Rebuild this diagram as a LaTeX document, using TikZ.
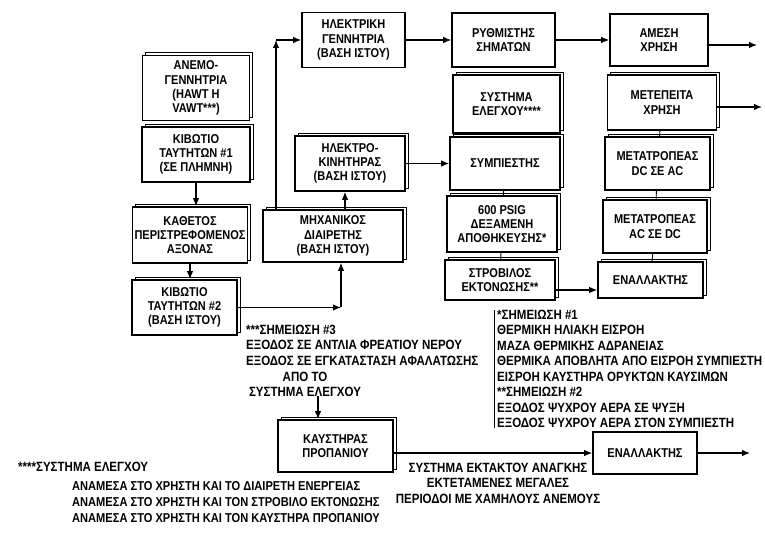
\documentclass[tikz,border=0pt]{standalone}
\usepackage{fontspec}
\setmainfont{Liberation Sans}[UprightFont={* Bold}, FakeStretch=0.86]
\usetikzlibrary{positioning, arrows.meta, shadows}

\begin{document}
\begin{tikzpicture}[x=1pt, y=-1pt, >={Latex[length=8pt, width=6.5pt]},
        font=\fontsize{12.8}{14.2}\selectfont,
        block/.style={rectangle, draw=black, line width=1.6pt, fill=white, align=center, inner sep=1pt},
        sblock/.style={block, copy shadow={shadow xshift=3pt, shadow yshift=3pt, draw=black, line width=0.9pt, fill=white}},
        note/.style={align=left, inner sep=0pt, font=\fontsize{13.4}{15.5}\selectfont},
        arrow/.style={->, line width=1.2pt},
        link/.style={line width=0.9pt}]

        \fill[white] (0,0) rectangle (765,534);
        \useasboundingbox (0,0) rectangle (765,534);

        % rotor side
        \node[sblock, minimum width=107pt, minimum height=65pt] (rotor) at (196,88) {ΑΝΕΜΟ-\\ΓΕΝΝΗΤΡΙΑ\\(HAWT Η\\VAWT***)};
        \node[sblock, minimum width=108pt, minimum height=55pt, below=5pt of rotor] (gearone) {ΚΙΒΩΤΙΟ\\ΤΑΥΤΗΤΩΝ \#1\\(ΣΕ ΠΛΗΜΝΗ)};
        \node[sblock, minimum width=115pt, minimum height=56pt] (shaft) at (190,235) {ΚΑΘΕΤΟΣ\\ΠΕΡΙΣΤΡΕΦΟΜΕΝΟΣ\\ΑΞΟΝΑΣ};
        \node[sblock, minimum width=105pt, minimum height=55pt] (geartwo) at (184.5,307.5) {ΚΙΒΩΤΙΟ\\ΤΑΥΤΗΤΩΝ \#2\\(ΒΑΣΗ ΙΣΤΟΥ)};

        % mast base
        \node[block, minimum width=103pt, minimum height=55pt] (gen) at (353.5,40) {ΗΛΕΚΤΡΙΚΗ\\ΓΕΝΝΗΤΡΙΑ\\(ΒΑΣΗ ΙΣΤΟΥ)};
        \node[sblock, minimum width=110pt, minimum height=55pt] (motor) at (350,163.5) {ΗΛΕΚΤΡΟ-\\ΚΙΝΗΤΗΡΑΣ\\(ΒΑΣΗ ΙΣΤΟΥ)};
        \node[sblock, minimum width=140pt, minimum height=52pt] (splitter) at (333,236) {ΜΗΧΑΝΙΚΟΣ\\ΔΙΑΙΡΕΤΗΣ\\(ΒΑΣΗ ΙΣΤΟΥ)};

        % middle column
        \node[block, minimum width=103pt, minimum height=54pt] (regul) at (503.5,40) {ΡΥΘΜΙΣΤΗΣ\\ΣΗΜΑΤΩΝ};
        \node[sblock, minimum width=107pt, minimum height=58pt] (control) at (506.5,104) {ΣΥΣΤΗΜΑ\\ΕΛΕΓΧΟΥ****};
        \node[sblock, minimum width=110pt, minimum height=53pt] (compr) at (505,163.5) {ΣΥΜΠΙΕΣΤΗΣ};
        \node[sblock, minimum width=110pt, minimum height=56pt] (tank) at (502,224) {600 PSIG\\ΔΕΞΑΜΕΝΗ\\ΑΠΟΘΗΚΕΥΣΗΣ*};
        \node[sblock, minimum width=110pt, minimum height=40pt] (turbine) at (500,280) {ΣΤΡΟΒΙΛΟΣ\\ΕΚΤΟΝΩΣΗΣ**};

        % right column
        \node[block, minimum width=98pt, minimum height=52pt] (direct) at (659,40) {ΑΜΕΣΗ\\ΧΡΗΣΗ};
        \node[sblock, minimum width=109pt, minimum height=55pt] (later) at (662,102.5) {ΜΕΤΕΠΕΙΤΑ\\ΧΡΗΣΗ};
        \node[sblock, minimum width=105pt, minimum height=53pt] (dcac) at (657.5,163.5) {ΜΕΤΑΤΡΟΠΕΑΣ\\DC ΣΕ AC};
        \node[sblock, minimum width=104pt, minimum height=53pt] (acdc) at (655,226.5) {ΜΕΤΑΤΡΟΠΕΑΣ\\AC ΣΕ DC};
        \node[sblock, minimum width=105pt, minimum height=36pt] (switch) at (650.5,280) {ΕΝΑΛΛΑΚΤΗΣ};

        % backup
        \node[sblock, minimum width=115pt, minimum height=52pt] (burner) at (335.5,446) {ΚΑΥΣΤΗΡΑΣ\\ΠΡΟΠΑΝΙΟΥ};
        \node[block, minimum width=104pt, minimum height=42pt] (backup) at (645,453) {ΕΝΑΛΛΑΚΤΗΣ};

        % notes
        \node[note, anchor=west] (notethree) at (246,345) {***ΣΗΜΕΙΩΣΗ \#3\\ΕΞΟΔΟΣ ΣΕ ΑΝΤΛΙΑ ΦΡΕΑΤΙΟΥ ΝΕΡΟΥ\\ΕΞΟΔΟΣ ΣΕ ΕΓΚΑΤΑΣΤΑΣΗ ΑΦΑΛΑΤΩΣΗΣ};
        \node[note, anchor=west] (noteone) at (497,369) {*ΣΗΜΕΙΩΣΗ \#1\\ΘΕΡΜΙΚΗ ΗΛΙΑΚΗ ΕΙΣΡΟΗ\\ΜΑΖΑ ΘΕΡΜΙΚΗΣ ΑΔΡΑΝΕΙΑΣ\\ΘΕΡΜΙΚΑ ΑΠΟΒΛΗΤΑ ΑΠΟ ΕΙΣΡΟΗ ΣΥΜΠΙΕΣΤΗ\\ΕΙΣΡΟΗ ΚΑΥΣΤΗΡΑ ΟΡΥΚΤΩΝ ΚΑΥΣΙΜΩΝ\\**ΣΗΜΕΙΩΣΗ \#2\\ΕΞΟΔΟΣ ΨΥΧΡΟΥ ΑΕΡΑ ΣΕ ΨΥΞΗ\\ΕΞΟΔΟΣ ΨΥΧΡΟΥ ΑΕΡΑ ΣΤΟΝ ΣΥΜΠΙΕΣΤΗ};
        \node[note, align=center, font=\fontsize{13.4}{15}\selectfont] (fromctrl) at (305,384) {ΑΠΟ ΤΟ\\ΣΥΣΤΗΜΑ ΕΛΕΓΧΟΥ};
        \node[note, align=center] (emerg) at (498,483) {ΣΥΣΤΗΜΑ ΕΚΤΑΚΤΟΥ ΑΝΑΓΚΗΣ\\ΕΚΤΕΤΑΜΕΝΕΣ ΜΕΓΑΛΕΣ\\ΠΕΡΙΟΔΟΙ ΜΕ ΧΑΜΗΛΟΥΣ ΑΝΕΜΟΥΣ};
        \node[note, anchor=west] (ctrlnote) at (18,467) {****ΣΥΣΤΗΜΑ ΕΛΕΓΧΟΥ};
        \node[note, anchor=west, font=\fontsize{12.9}{16}\selectfont] (ctrllist) at (72,502) {ΑΝΑΜΕΣΑ ΣΤΟ ΧΡΗΣΤΗ ΚΑΙ ΤΟ ΔΙΑΙΡΕΤΗ ΕΝΕΡΓΕΙΑΣ\\ΑΝΑΜΕΣΑ ΣΤΟ ΧΡΗΣΤΗ ΚΑΙ ΤΟΝ ΣΤΡΟΒΙΛΟ ΕΚΤΟΝΩΣΗΣ\\ΑΝΑΜΕΣΑ ΣΤΟ ΧΡΗΣΤΗ ΚΑΙ ΤΟΝ ΚΑΥΣΤΗΡΑ ΠΡΟΠΑΝΙΟΥ};

        \coordinate (gearkink) at (341,307.5);
        \coordinate (genkink) at (276,40);
        \coordinate (outone) at (757,45);
        \coordinate (outtwo) at (762,107);
        \coordinate (outthree) at (750,453);

        \draw[link] ([xshift=-3pt]noteone.north west) -- ([xshift=-3pt]noteone.south west);

        \draw[arrow] (gearone.south) -- (gearone.south |- shaft.north);
        \draw[arrow] (shaft.south) -- (shaft.south |- geartwo.north);
        \draw[arrow] (geartwo) -- (gearkink);
        \draw[arrow] (gearkink) -- (gearkink |- splitter.south);
        \draw[arrow] (splitter.north -| genkink) -- (genkink);
        \draw[arrow] (genkink) -- (gen);
        \draw[arrow] ([xshift=12pt]splitter.north) -- ([xshift=12pt]splitter.north |- motor.south);
        \draw[arrow] (gen) -- (regul);
        \draw[arrow] (regul) -- (direct);
        \draw[arrow] (direct.east |- outone) -- (outone);
        \draw[arrow] (motor) -- (compr);
        \draw[arrow] (later.east |- outtwo) -- (outtwo);
        \draw[arrow] ([yshift=-10pt]turbine.east) -- ([yshift=-10pt]turbine.east -| switch.west);
        \draw[link] (compr) -- (tank);
        \draw[link] (tank) -- (turbine);
        \draw[link] (later) -- (dcac);
        \draw[link] (dcac) -- (acdc);
        \draw[link] (acdc) -- (switch);
        \draw[arrow] ([xshift=13pt]fromctrl.south) -- ([xshift=13pt]fromctrl.south |- burner.north);
        \draw[arrow] (burner.east |- backup) -- (backup.west);
        \draw[arrow] (backup) -- (outthree);
    \end{tikzpicture}
\end{document}
